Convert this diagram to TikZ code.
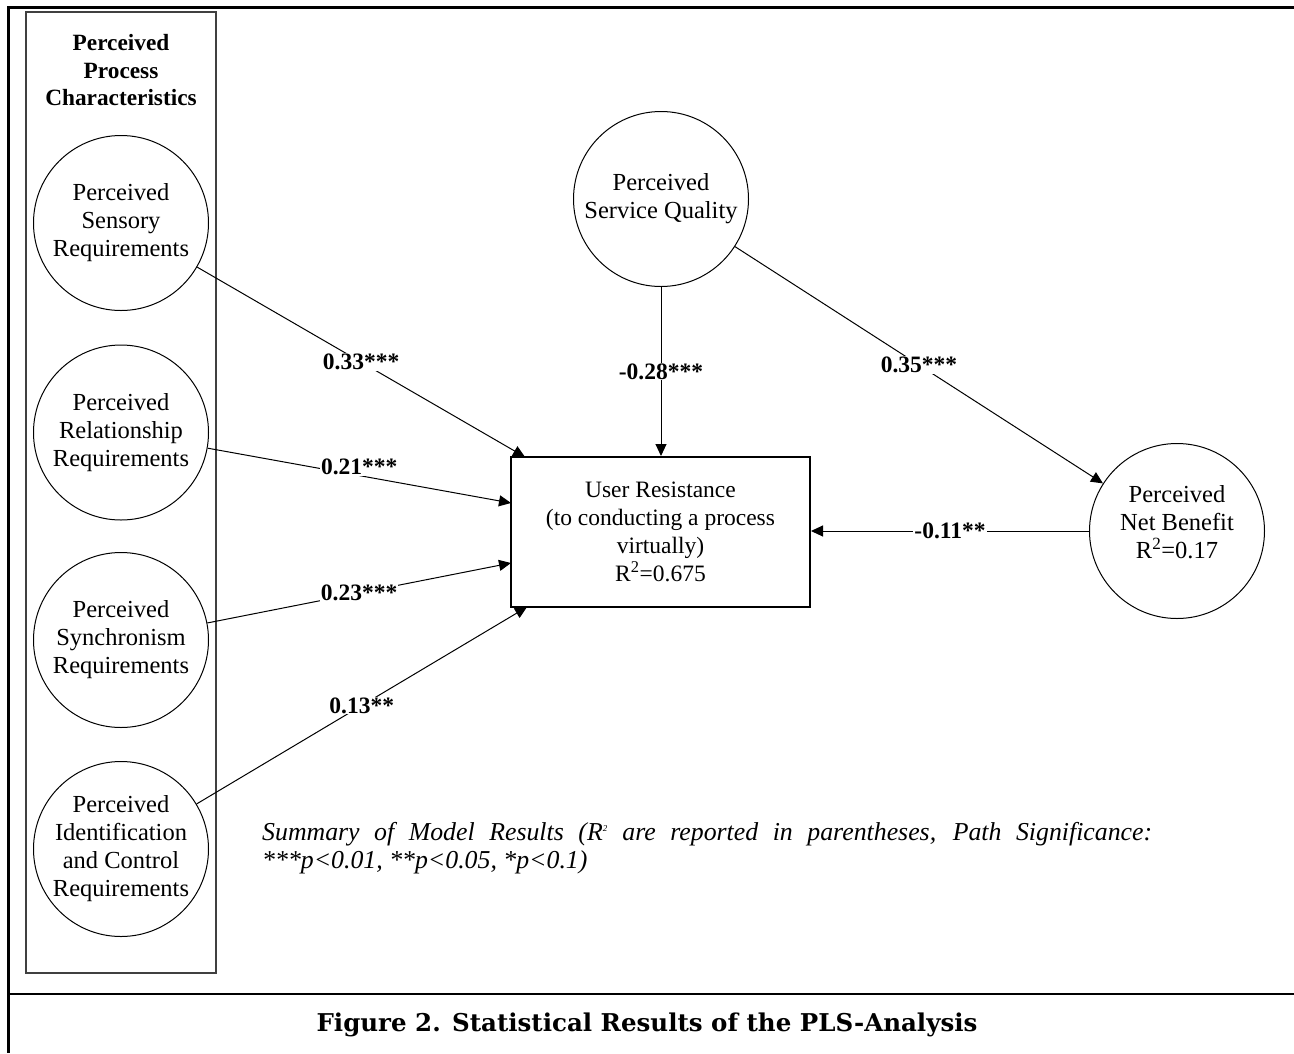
\documentclass[tikz,border=0pt]{standalone}
\usepackage{fontspec}
\setmainfont{Liberation Serif}
\newfontfamily\capfont{DejaVu Serif}
\usetikzlibrary{arrows.meta,calc}
\begin{document}
\begin{tikzpicture}[x=1pt,y=-1pt,
  circ/.style={draw, line width=1pt, circle, minimum size=175pt, inner sep=0pt, align=center, font=\fontsize{24.5}{28}\selectfont},
  resbox/.style={draw, line width=2pt, minimum width=299pt, minimum height=150pt, inner sep=0pt, align=center, font=\fontsize{23.5}{28}\selectfont},
  groupbox/.style={draw=black!75, line width=1.2pt, minimum width=190pt, minimum height=961pt, inner sep=0pt},
  conn/.style={line width=1pt, -{Triangle[length=12pt,width=11pt]}},
  lbl/.style={fill=white, inner sep=1pt, font=\bfseries\fontsize{23.5}{28}\selectfont},
  frameline/.style={line width=2.7pt},
]
\useasboundingbox (0,0) rectangle (1294,1053);
% outer frame
\draw[frameline] (1294,7.5) -- (8.5,7.5) -- (8.5,1053);
\draw[frameline] (8.5,994) -- (1294,994);

% group box
\node[groupbox] (grp) at (121,492.5) {};
\node[font=\bfseries\fontsize{23.3}{27.5}\selectfont, align=center] (ttl) at (121,70.5) {Perceived\\Process\\Characteristics};

% constructs
\node[circ] (c1) at (121,223) {Perceived\\Sensory\\Requirements};
\node[circ] (c2) at (121,432.5) {Perceived\\Relationship\\Requirements};
\node[circ] (c3) at (121,640) {Perceived\\Synchronism\\Requirements};
\node[circ] (c4) at (121,849) {Perceived\\Identification\\and Control\\Requirements};
\node[circ] (sq) at (661,199) {Perceived\\Service Quality};
\node[circ, label={[align=center, font=\fontsize{24.5}{28}\selectfont, yshift=9pt]center:Perceived\\Net Benefit\\R\textsuperscript{2}=0.17}] (nb) at (1177,531) {};
\node[resbox] (ur) at (660.5,532) {User Resistance\\(to conducting a process\\virtually)\\R\textsuperscript{2}=0.675};

% arrow targets on the box
\coordinate (t1) at (525,457);
\coordinate (t2) at (511,503);
\coordinate (t3) at (511,563);
\coordinate (t4) at (527,607);

% connectors
\draw[conn] (c1) -- node[lbl]{0.33***} (t1);
\draw[conn] (c2) -- node[lbl, yshift=9pt]{0.21***} (t2);
\draw[conn] (c3) -- node[lbl]{0.23***} (t3);
\draw[conn] (c4) -- node[lbl]{0.13**} (t4);
\draw[conn] (sq.south) -- node[lbl]{-0.28***} (sq.south |- ur.north);
\draw[conn] (sq) -- node[lbl]{0.35***} (nb);
\draw[conn] (nb.west) -- node[lbl]{-0.11**} (nb.west -| ur.east);

% summary
\node[anchor=west, align=left, inner sep=0pt, font=\itshape\fontsize{25.8}{28}\selectfont] (sum) at (262,848) {\makebox[890pt][s]{Summary of Model Results (R\textsuperscript{\fontsize{9}{9}\selectfont 2} are reported in parentheses, Path Significance:}\\***p<0.01, **p<0.05, *p<0.1)};

% caption
\node[font=\capfont\bfseries\fontsize{24.5}{28}\selectfont] (cap) at (647,1025) {Figure 2. Statistical Results of the PLS-Analysis};
\end{tikzpicture}
\end{document}
